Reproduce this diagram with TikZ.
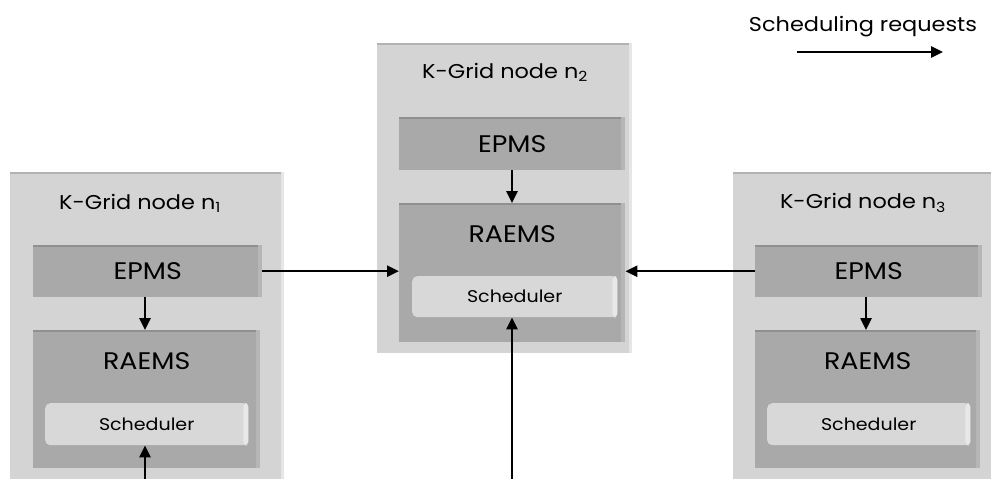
\documentclass[tikz,border=0pt]{standalone}
\usepackage{fontspec}
\setmainfont[FakeStretch=1.12]{Poppins}
\usetikzlibrary{arrows.meta,calc}
\definecolor{outerfill}{HTML}{D4D4D4}
\definecolor{outertop}{HTML}{B2B2B2}
\definecolor{outerright}{HTML}{E6E6E6}
\definecolor{innerfill}{HTML}{A9A9A9}
\definecolor{innertop}{HTML}{909090}
\definecolor{innerright}{HTML}{B6B6B6}
\definecolor{schedfill}{HTML}{D8D8D8}
\definecolor{schedright}{HTML}{E8E8E8}
\tikzset{
  outerbox/.style={fill=outerfill, draw=none, inner sep=0pt},
  innerbox/.style={fill=innerfill, draw=none, inner sep=0pt},
  schedbox/.style={fill=schedfill, draw=none, rounded corners=5pt, inner sep=0pt},
  titletext/.style={font=\fontsize{20}{24}\selectfont, inner sep=0pt},
  bigtext/.style={font=\fontsize{24}{28}\selectfont, inner sep=0pt},
  schedtext/.style={font=\fontsize{17}{20}\selectfont, inner sep=0pt},
  req/.style={line width=2.5pt, -{Triangle[length=12pt,width=11pt]}},
}
\newcommand{\boxat}[6]{% name, style, x1, y1, x2, y2
  \node[#2, minimum width={(#5)-(#3)}, minimum height={(#6)-(#4)}, anchor=north west] (#1) at (#3,#4) {};}
\newcommand{\bevelbox}[4]{% name, topcolor, rightcolor, rightwidth
  \fill[#2] (#1.north west) rectangle ($(#1.north east)+(0,2)$);
  \fill[#3] ($(#1.north east)+(-#4,0)$) rectangle (#1.south east);}
\begin{document}
\begin{tikzpicture}[x=1pt,y=-1pt]
\useasboundingbox (0,0) rectangle (991,479);
\begin{scope}
\clip (0,0) rectangle (991,479);
% outer boxes
\boxat{N1}{outerbox}{10}{172}{284}{490}
\boxat{N2}{outerbox}{377}{43}{632}{353}
\boxat{N3}{outerbox}{733}{172}{1000}{490}
\bevelbox{N1}{outertop}{outerright}{3}
\bevelbox{N2}{outertop}{outerright}{3}
\bevelbox{N3}{outertop}{outerright}{3}
% inner boxes
\boxat{E1}{innerbox}{33}{245}{262}{297}
\boxat{R1}{innerbox}{33}{330}{260}{468}
\boxat{E2}{innerbox}{399}{117}{625}{170}
\boxat{R2}{innerbox}{399}{203}{625}{342}
\boxat{E3}{innerbox}{755}{245}{982}{297}
\boxat{R3}{innerbox}{755}{330}{980}{468}
\foreach \b in {E1,R1,E2,R2,E3,R3}{\bevelbox{\b}{innertop}{innerright}{4}}
% scheduler boxes
\boxat{S1}{schedbox}{45}{403}{248}{445}
\boxat{S2}{schedbox}{412}{276}{617}{317}
\boxat{S3}{schedbox}{767}{403}{970}{445}
\foreach \s in {S1,S2,S3}{
  \fill[schedright, rounded corners=4pt] ($(\s.north east)+(-5,0)$) rectangle (\s.south east);}
% texts
\node[titletext] (T1) at (140,203) {K-Grid node n\textsubscript{1}};
\node[titletext] (T2) at (505,72) {K-Grid node n\textsubscript{2}};
\node[titletext] (T3) at (863,203) {K-Grid node n\textsubscript{3}};
\node[bigtext] (E1t) at (E1) {EPMS};
\node[bigtext] (E2t) at (E2) {EPMS};
\node[bigtext] (E3t) at (E3) {EPMS};
\node[bigtext] (R1t) at ($(R1.north)+(0,31)$) {RAEMS};
\node[bigtext] (R2t) at ($(R2.north)+(0,31)$) {RAEMS};
\node[bigtext] (R3t) at ($(R3.north)+(0,31)$) {RAEMS};
\node[schedtext] (S1t) at (S1) {Scheduler};
\node[schedtext] (S2t) at (S2) {Scheduler};
\node[schedtext] (S3t) at (S3) {Scheduler};
% connectors
\draw[req] (E1.south -| 145,0) -- (R1.north -| 145,0);
\draw[req] (E2.south -| 512,0) -- (R2.north -| 512,0);
\draw[req] (E3.south -| 866,0) -- (R3.north -| 866,0);
\coordinate (B1) at (145,480);
\coordinate (B2) at (512,480);
\draw[req] (B1) -- (B1 |- S1.south);
\draw[req] (B2) -- (B2 |- S2.south);
\draw[req] (E1.east) -- (E1.east -| R2.west);
\draw[req] (E3.west) -- (E3.west -| R2.east);
% legend
\node[font=\fontsize{20}{24}\selectfont, inner sep=0pt] (L) at (863,27) {Scheduling requests};
\coordinate (La) at (797,52);
\coordinate (Lb) at (943,52);
\draw[req] (La) -- (Lb);
\end{scope}
\end{tikzpicture}
\end{document}
